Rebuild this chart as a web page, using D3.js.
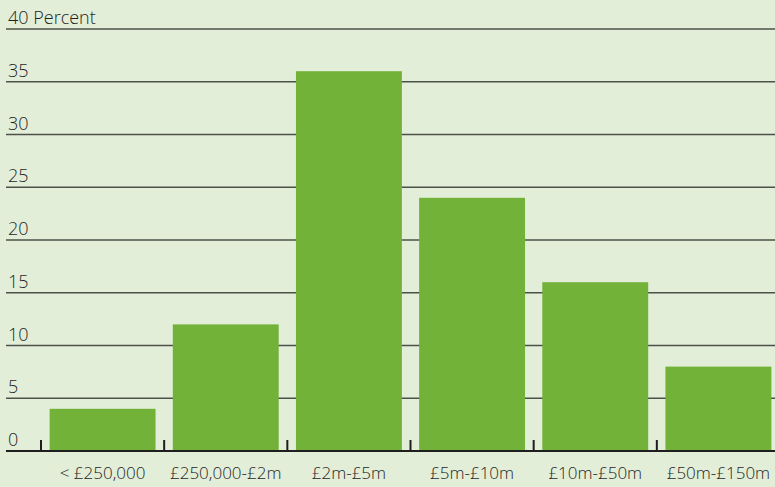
<!DOCTYPE html>
<html>
<head>
<meta charset="utf-8">
<script src="https://cdn.jsdelivr.net/npm/d3@7"></script>
<style>
  html, body { margin: 0; padding: 0; background: #e3eed8; }
  svg { display: block; }
  text { font-family: "Open Sans", Lato, sans-serif; font-weight: 300; fill: #1f1f1f; }
</style>
</head>
<body>
<svg id="chart" width="775" height="487"></svg>
<script>
// Share of companies by turnover band (percent)
const categories = ["< £250,000", "£250,000-£2m", "£2m-£5m", "£5m-£10m", "£10m-£50m", "£50m-£150m"];
const values = [4, 12, 36, 24, 16, 8];
const yTicks = [0, 5, 10, 15, 20, 25, 30, 35, 40];
const yUnit = "Percent";

const W = 775, H = 487;
const svg = d3.select("#chart");

const x = d3.scaleBand()
  .domain(categories)
  .range([41, 780])
  .paddingInner(0.14)
  .paddingOuter(0.07);

const y = d3.scaleLinear()
  .domain([0, 40])
  .range([451, 29]);

// Horizontal gridlines with value labels sitting above them
const grid = svg.append("g");
grid.selectAll("line")
  .data(yTicks.filter(d => d > 0))
  .join("line")
  .attr("x1", 6).attr("x2", W)
  .attr("y1", d => y(d)).attr("y2", d => y(d))
  .attr("stroke", "#4b5148")
  .attr("stroke-width", 1.3);

grid.selectAll("text")
  .data(yTicks)
  .join("text")
  .attr("x", 8)
  .attr("y", d => y(d) - 5)
  .attr("font-size", 18)
  .text(d => d === 40 ? `${d} ${yUnit}` : d);

// Bars
svg.append("g").selectAll("rect")
  .data(values)
  .join("rect")
  .attr("x", (d, i) => x(categories[i]))
  .attr("width", x.bandwidth())
  .attr("y", d => y(d))
  .attr("height", d => y(0) - y(d))
  .attr("fill", "#73b238");

// Baseline with category separators
const step = x.step();
const bounds = categories.map(c => x(c) - x.paddingOuter() * step);
const base = svg.append("g");
base.append("line")
  .attr("x1", 6).attr("x2", W)
  .attr("y1", y(0)).attr("y2", y(0))
  .attr("stroke", "#1e1e1e")
  .attr("stroke-width", 2);
base.selectAll("line.tick")
  .data(bounds)
  .join("line")
  .attr("class", "tick")
  .attr("x1", d => d).attr("x2", d => d)
  .attr("y1", y(0) - 11).attr("y2", y(0))
  .attr("stroke", "#1e1e1e")
  .attr("stroke-width", 2);

// Category labels
svg.append("g").selectAll("text")
  .data(categories)
  .join("text")
  .attr("x", d => x(d) + x.bandwidth() / 2)
  .attr("y", 479)
  .attr("text-anchor", "middle")
  .attr("font-size", 17)
  .text(d => d);
</script>
</body>
</html>
